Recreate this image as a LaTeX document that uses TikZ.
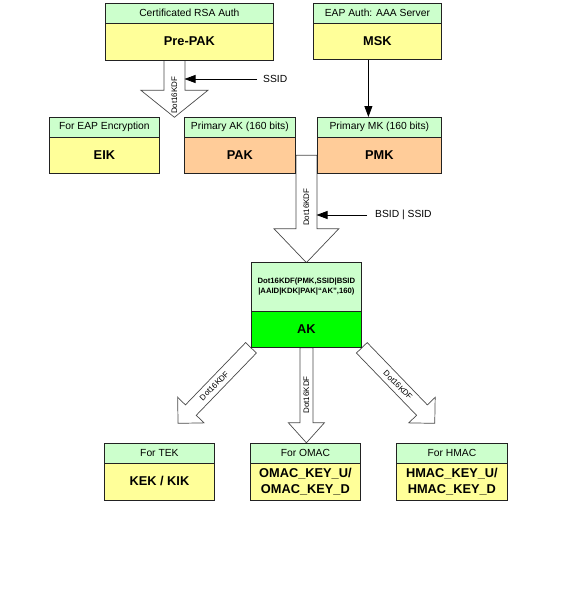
\documentclass[tikz,border=0pt]{standalone}
\usepackage{fontspec}
\setmainfont{Liberation Sans}
\usetikzlibrary{arrows.meta,backgrounds,calc}
\definecolor{hdrg}{HTML}{CCFFCC}
\definecolor{yel}{HTML}{FFFF99}
\definecolor{peach}{HTML}{FFCC99}
\definecolor{akg}{HTML}{00FF00}
\definecolor{edgec}{HTML}{222222}
\definecolor{harrowc}{HTML}{4A4A4A}
\tikzset{
  hdr/.style={draw=edgec, line width=0.8pt, fill=hdrg, anchor=north west, minimum height=19.5pt, inner sep=0pt, font=\fontsize{10.3}{12}\selectfont},
  bodybox/.style={draw=edgec, line width=0.8pt, anchor=north west, inner sep=0pt, align=center, font=\fontsize{12.8}{16}\selectfont\bfseries},
  harrow/.style={draw=harrowc, line width=0.7pt, fill=white},
  klabel/.style={inner sep=0pt, font=\fontsize{8}{10}\selectfont},
  thinarr/.style={draw=black, line width=0.8pt, -{Triangle[length=11pt,width=8pt]}},
  sidelabel/.style={anchor=west, inner sep=0pt, font=\fontsize{10.3}{12}\selectfont}
}
% #1 start, #2 angle, #3 length, #4 shaft half width, #5 head half width, #6 head length, #7 label pos, #8 label rotation, #9 name
\newcommand\hollowarrow[9]{%
  \begin{scope}[shift={#1}, rotate=#2, x=1pt, y=1pt]
    \draw[harrow] (0,#4) -- ({#3-#6},#4) -- ({#3-#6},#5) -- (#3,0) -- ({#3-#6},-#5) -- ({#3-#6},-#4) -- (0,-#4) -- cycle;
    \node[klabel, rotate=#8] (#9) at (#7,0) {Dot16KDF};
  \end{scope}}
\begin{document}
\begin{tikzpicture}[x=1pt,y=-1pt]
\useasboundingbox (0,0) rectangle (569,590);
% top row
\node[hdr, minimum width=168pt] (rsah) at (105,3) {Certificated RSA Auth};
\node[bodybox, fill=yel, minimum width=168pt, minimum height=37pt] (rsab) at (105,22.5) {Pre-PAK};
\node[hdr, minimum width=128pt] (mskh) at (313,3) {EAP Auth: AAA Server};
\node[bodybox, fill=yel, minimum width=128pt, minimum height=36.5pt] (mskb) at (313,22.5) {MSK};
% second row
\node[hdr, minimum width=110pt] (eikh) at (49,117) {For EAP Encryption};
\node[bodybox, fill=yel, minimum width=110pt, minimum height=36.5pt] (eikb) at (49,136.5) {EIK};
\node[hdr, minimum width=111pt] (pakh) at (184,117) {Primary AK (160 bits)};
\node[bodybox, fill=peach, minimum width=111pt, minimum height=36.5pt] (pakb) at (184,136.5) {PAK};
\node[hdr, minimum width=124pt] (pmkh) at (317,117) {Primary MK (160 bits)};
\node[bodybox, fill=peach, minimum width=124pt, minimum height=36.5pt] (pmkb) at (317,136.5) {PMK};
% AK
\node[bodybox, fill=hdrg, minimum width=110pt, minimum height=49pt, font=\fontsize{7.7}{10}\selectfont\bfseries] (akh) at (251,262) {Dot16KDF(PMK,SSID|BSID\\|AAID|KDK|PAK|“AK”,160)};
\node[bodybox, fill=akg, minimum width=110pt, minimum height=36pt] (akb) at (251,311) {AK};
% bottom row
\node[hdr, minimum width=110pt] (kekh) at (104,443) {For TEK};
\node[bodybox, fill=yel, minimum width=110pt, minimum height=37pt] (kekb) at (104,462.5) {KEK / KIK};
\node[hdr, minimum width=110pt] (omach) at (250,443) {For OMAC};
\node[bodybox, fill=yel, minimum width=110pt, minimum height=37pt] (omacb) at (250,462.5) {OMAC\_KEY\_U/\\OMAC\_KEY\_D};
\node[hdr, minimum width=111pt] (hmach) at (396,443) {For HMAC};
\node[bodybox, fill=yel, minimum width=111pt, minimum height=37pt] (hmacb) at (396,462.5) {HMAC\_KEY\_U/\\HMAC\_KEY\_D};
% hollow KDF arrows behind boxes
\begin{scope}[on background layer]
  \hollowarrow{([xshift=-15pt]rsab.south)}{-90}{57}{10.5}{33.5}{27}{35}{90}{kdfa}
  \hollowarrow{($(pakb.east)!0.5!(pmkb.west)$)}{-90}{107.5}{10.5}{32.5}{34}{52}{90}{kdfb}
  \hollowarrow{(akb.south west)}{-134}{105}{7.5}{18.4}{18.4}{53}{45}{kdfc}
  \hollowarrow{(akb.south)}{-90}{95}{6.5}{18}{20}{47}{90}{kdfd}
  \hollowarrow{(akb.south east)}{-46}{105}{7.5}{18.4}{18.4}{52}{-45}{kdfe}
\end{scope}
% thin connectors
\node[sidelabel] (ssid) at (263,79) {SSID};
\coordinate (ssidtip) at (184.5,79);
\draw[thinarr, shorten <=6pt] (ssid.west) -- (ssidtip);
\node[sidelabel] (bsid) at (375,215) {BSID | SSID};
\coordinate (bsidtip) at (316.5,215);
\draw[thinarr, shorten <=8pt] (bsid.west) -- (bsidtip);
\draw[thinarr] ([xshift=-9pt]mskb.south) -- ([xshift=-9pt]mskb.south |- pmkh.north);
\end{tikzpicture}
\end{document}
